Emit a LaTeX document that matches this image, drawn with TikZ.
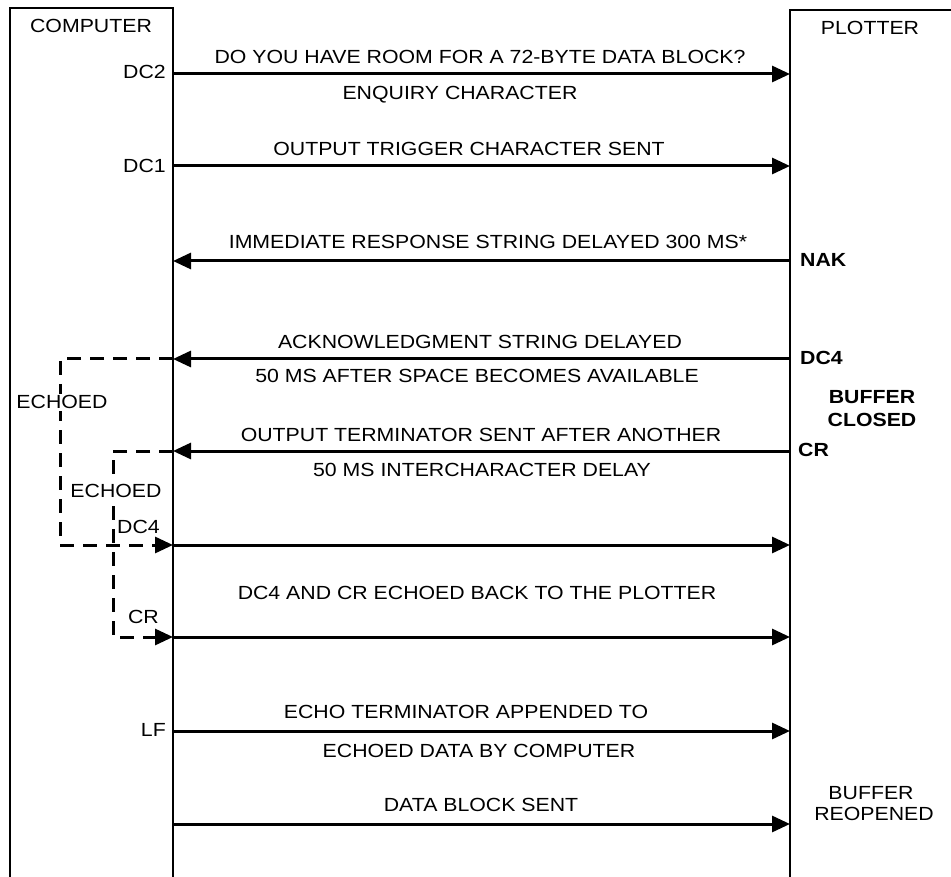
\documentclass[tikz,border=0pt]{standalone}
\usepackage{fontspec}
\setmainfont{Liberation Sans}[FakeStretch=1.12]
\usetikzlibrary{arrows.meta}
\begin{document}
\begin{tikzpicture}[x=1pt,y=-1pt,
  lbl/.style={font=\fontsize{19}{22}\selectfont, inner sep=0pt, anchor=base},
  bld/.style={font=\fontsize{19}{22}\selectfont\bfseries, inner sep=0pt, anchor=base west},
  msg/.style={line width=3pt, -{Triangle[length=18pt,width=16pt]}},
  echo/.style={line width=3pt, dash pattern=on 14pt off 9pt, -{Triangle[length=18pt,width=16pt]}},
  life/.style={line width=2.4pt}]
\useasboundingbox (0,0) rectangle (951,877);
% lifeline boxes
\draw[life] (10,877) -- (10,8) -- (173,8) -- (173,877);
\draw[life] (790,877) -- (790,10) -- (955,10);
\node[lbl] (comp) at (91,33) {COMPUTER};
\node[lbl] (plot) at (870,35) {PLOTTER};
% endpoints
\coordinate (a1) at (173,74);  \coordinate (b1) at (790,74);
\coordinate (a2) at (173,166); \coordinate (b2) at (790,166);
\coordinate (a3) at (173,261); \coordinate (b3) at (790,261);
\coordinate (a4) at (173,359); \coordinate (b4) at (790,359);
\coordinate (a5) at (173,451); \coordinate (b5) at (790,451);
\coordinate (a6) at (173,545); \coordinate (b6) at (790,545);
\coordinate (a7) at (173,637); \coordinate (b7) at (790,637);
\coordinate (a8) at (173,731); \coordinate (b8) at (790,731);
\coordinate (a9) at (173,824); \coordinate (b9) at (790,824);
\coordinate (eo) at (60,0);
\coordinate (ei) at (113,0);
% messages
\draw[msg] (a1) -- (b1);
\draw[msg] (a2) -- (b2);
\draw[msg] (b3) -- (a3);
\draw[msg] (b4) -- (a4);
\draw[msg] (b5) -- (a5);
\draw[msg] (a6) -- (b6);
\draw[msg] (a7) -- (b7);
\draw[msg] (a8) -- (b8);
\draw[msg] (a9) -- (b9);
% echo paths
\draw[echo] (a4) -- (a4 -| eo) -- (a6 -| eo) -- (a6);
\draw[echo] (a5) -- (a5 -| ei) -- (a7 -| ei) -- (a7);
\node[lbl, fill=white, inner sep=2pt] (echo1) at (62,409) {ECHOED};
\node[lbl, fill=white, inner sep=2pt] (echo2) at (116,497) {ECHOED};
% message texts
\node[lbl] (t1) at (480,64) {DO YOU HAVE ROOM FOR A 72-BYTE DATA BLOCK?};
\node[lbl] (t1b) at (460,100) {ENQUIRY CHARACTER};
\node[lbl] (t2) at (469,156) {OUTPUT TRIGGER CHARACTER SENT};
\node[lbl] (t3) at (488,249) {IMMEDIATE RESPONSE STRING DELAYED 300 MS*};
\node[lbl] (t4) at (480,349) {ACKNOWLEDGMENT STRING DELAYED};
\node[lbl] (t4b) at (477,383) {50 MS AFTER SPACE BECOMES AVAILABLE};
\node[lbl] (t5) at (481,441) {OUTPUT TERMINATOR SENT AFTER ANOTHER};
\node[lbl] (t5b) at (482,476) {50 MS INTERCHARACTER DELAY};
\node[lbl] (t6) at (477,599) {DC4 AND CR ECHOED BACK TO THE PLOTTER};
\node[lbl] (t8) at (466,718) {ECHO TERMINATOR APPENDED TO};
\node[lbl] (t8b) at (479,757) {ECHOED DATA BY COMPUTER};
\node[lbl] (t9) at (481,811) {DATA BLOCK SENT};
% computer side labels
\node[lbl, anchor=base east] (dc2) at (166,79) {DC2};
\node[lbl, anchor=base east] (dc1) at (166,173) {DC1};
\node[lbl, anchor=base east] (dc4l) at (160,533) {DC4};
\node[lbl, anchor=base east] (crl) at (159,623) {CR};
\node[lbl, anchor=base east] (lf) at (166,736) {LF};
% plotter side labels
\node[bld] (nak) at (800,267) {NAK};
\node[bld] (dc4r) at (800,365) {DC4};
\node[bld] (crr) at (798,456) {CR};
\node[lbl, font=\fontsize{19}{22}\selectfont\bfseries] (bc1) at (872,403) {BUFFER};
\node[lbl, font=\fontsize{19}{22}\selectfont\bfseries] (bc2) at (872,426) {CLOSED};
\node[lbl] (br1) at (871,799) {BUFFER};
\node[lbl] (br2) at (874,820) {REOPENED};
\end{tikzpicture}
\end{document}
